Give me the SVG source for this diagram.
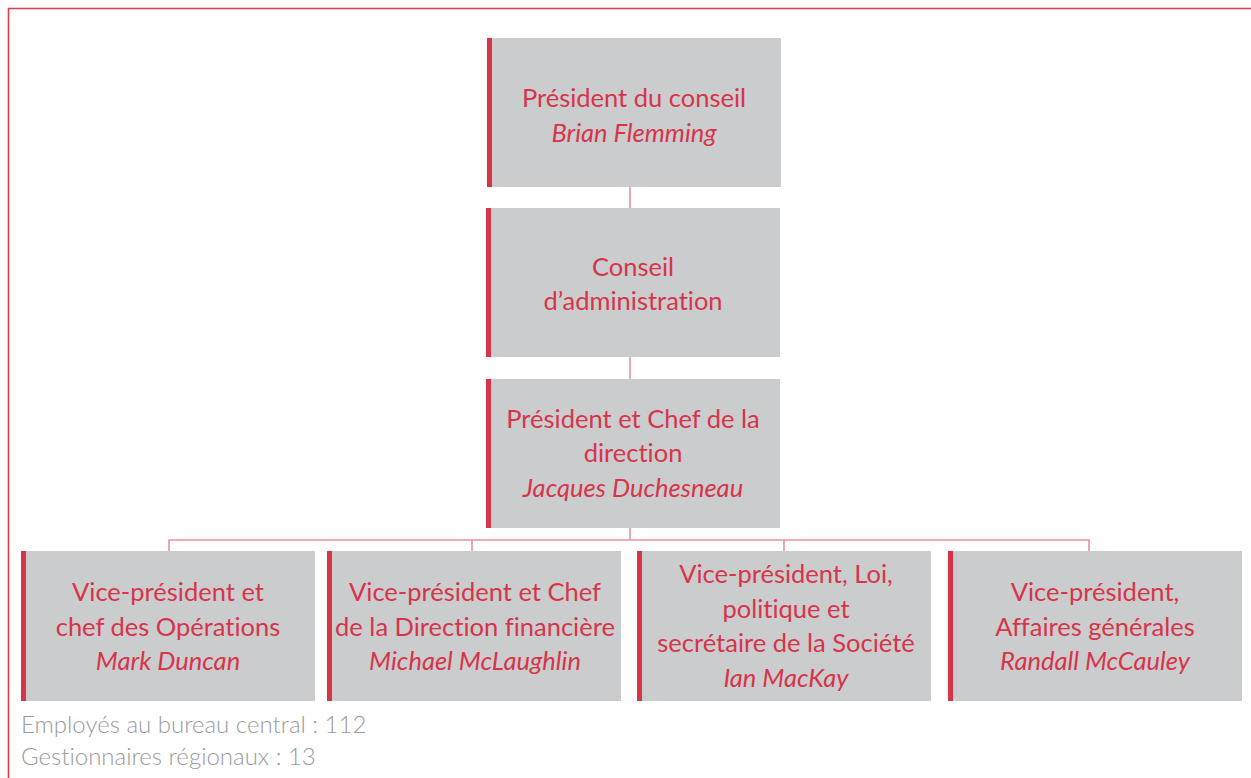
<svg xmlns="http://www.w3.org/2000/svg" width="1251" height="778" viewBox="0 0 1251 778">
<style>
.box{fill:#cbcccd}
.bar{fill:#d7344a}
.t{font-family:Lato,"Liberation Sans",sans-serif;font-size:25.5px;fill:#d7344a;text-anchor:middle;font-variant-ligatures:none}
.i{font-style:italic}
.c{stroke:#ec919c;stroke-width:1.6;fill:none}
.note{font-family:Lato,"Liberation Sans",sans-serif;font-size:24px;font-weight:300;fill:#9b9b9b;font-variant-ligatures:none}
</style>
<rect x="0" y="0" width="1251" height="778" fill="#ffffff"/>
<path d="M8.5 778 V8.5 H1251" fill="none" stroke="#e03a4c" stroke-width="1.6"/>
<g id="connectors">
<line class="c" x1="630" y1="187" x2="630" y2="208"/>
<line class="c" x1="630" y1="357" x2="630" y2="379"/>
<line class="c" x1="630" y1="528" x2="630" y2="540"/>
<path class="c" d="M169 551 V540 H1089 V551"/>
<line class="c" x1="472" y1="540" x2="472" y2="551"/>
<line class="c" x1="784" y1="540" x2="784" y2="551"/>
</g>
<g id="node-president-conseil">
<rect class="box" x="487" y="38" width="294" height="149"/>
<rect class="bar" x="487" y="38" width="5" height="149"/>
<text class="t" x="634" y="107">Président du conseil</text>
<text class="t i" x="634" y="142">Brian Flemming</text>
</g>
<g id="node-conseil">
<rect class="box" x="486" y="208" width="294" height="149"/>
<rect class="bar" x="486" y="208" width="5" height="149"/>
<text class="t" x="633" y="276">Conseil</text>
<text class="t" x="633" y="310">d’administration</text>
</g>
<g id="node-pdg">
<rect class="box" x="486" y="379" width="294" height="149"/>
<rect class="bar" x="486" y="379" width="5" height="149"/>
<text class="t" x="633" y="428">Président et Chef de la</text>
<text class="t" x="633" y="462">direction</text>
<text class="t i" x="633" y="497">Jacques Duchesneau</text>
</g>
<g id="node-vp-operations">
<rect class="box" x="21" y="551" width="294" height="150"/>
<rect class="bar" x="21" y="551" width="5" height="150"/>
<text class="t" x="168" y="601">Vice-président et</text>
<text class="t" x="168" y="636">chef des Opérations</text>
<text class="t i" x="168" y="670">Mark Duncan</text>
</g>
<g id="node-vp-finances">
<rect class="box" x="327" y="551" width="294" height="150"/>
<rect class="bar" x="327" y="551" width="5" height="150"/>
<text class="t" x="475" y="601">Vice-président et Chef</text>
<text class="t" x="475" y="636">de la Direction financière</text>
<text class="t i" x="475" y="670">Michael McLaughlin</text>
</g>
<g id="node-vp-loi">
<rect class="box" x="637" y="551" width="294" height="150"/>
<rect class="bar" x="637" y="551" width="5" height="150"/>
<text class="t" x="786" y="583">Vice-président, Loi,</text>
<text class="t" x="786" y="618">politique et</text>
<text class="t" x="786" y="652">secrétaire de la Société</text>
<text class="t i" x="786" y="687">Ian MacKay</text>
</g>
<g id="node-vp-affaires">
<rect class="box" x="948" y="551" width="294" height="150"/>
<rect class="bar" x="948" y="551" width="5" height="150"/>
<text class="t" x="1095" y="601">Vice-président,</text>
<text class="t" x="1095" y="636">Affaires générales</text>
<text class="t i" x="1095" y="670">Randall McCauley</text>
</g>
<g id="notes">
<text class="note" x="21" y="733">Employés au bureau central : 112</text>
<text class="note" x="21" y="765">Gestionnaires régionaux : 13</text>
</g>
</svg>
